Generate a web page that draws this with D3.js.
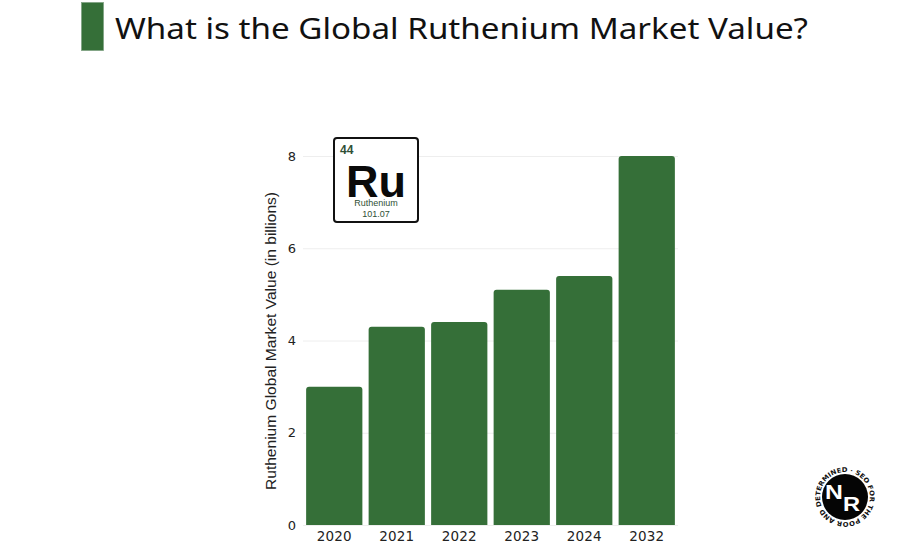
<!DOCTYPE html>
<html><head><meta charset="utf-8">
<script src="https://cdn.jsdelivr.net/npm/d3@7/dist/d3.min.js"></script>
<style>html,body{margin:0;padding:0;background:#fff}svg{display:block}text{font-family:"Noto Sans",sans-serif}</style>
</head><body><svg id="c" width="915" height="553"></svg>
<script>
const years = ["2020","2021","2022","2023","2024","2032"];
const marketValues = [3.0,4.3,4.4,5.1,5.4,8.0];
const yTicks = [0,2,4,6,8];
const titleText = "What is the Global Ruthenium Market Value?";
const yLabel = "Ruthenium Global Market Value (in billions)";
const ringText = "DETERMINED · SEO FOR THE POOR AND";
const green = "#356f38";

const svg = d3.select("#c");
svg.append("rect").attr("x",81.5).attr("y",2.5).attr("width",22).attr("height",48).attr("fill",green).attr("stroke","#7fa283").attr("stroke-width",.8);
svg.append("text").attr("x",115).attr("y",39).attr("font-size",29.5).attr("fill","#111").attr("textLength",693).attr("lengthAdjust","spacingAndGlyphs").text(titleText);

const x = d3.scaleBand().domain(years).range([303,678]).paddingInner(0.1).paddingOuter(0.05);
const y = d3.scaleLinear().domain([0,8]).range([525,156]);

const gy = svg.append("g").attr("transform","translate(303,0)")
  .call(d3.axisLeft(y).tickValues(yTicks).tickSize(-375).tickPadding(7).tickFormat(d3.format("d")));
gy.select(".domain").remove();
gy.selectAll(".tick line").attr("stroke","#eeeeee");
gy.selectAll(".tick text").attr("font-size",13).attr("fill","#222").style("font-family","DejaVu Sans");

const gx = svg.append("g").attr("transform","translate(0,525)")
  .call(d3.axisBottom(x).tickSize(0).tickPadding(6));
gx.select(".domain").remove();
gx.selectAll(".tick text").attr("font-size",13.5).attr("fill","#222").attr("letter-spacing",.2).style("font-family","DejaVu Sans");

svg.append("text").attr("transform","translate(276,341) rotate(-90)").attr("text-anchor","middle")
  .attr("font-size",14.5).attr("fill","#222").attr("textLength",298).attr("lengthAdjust","spacingAndGlyphs").style("font-family","Liberation Sans").text(yLabel);

const r = 3;
svg.append("g").selectAll("path").data(years).join("path").attr("fill",green)
  .attr("d",(d,i)=>{
    const a=x(d), w=x.bandwidth(), t=y(marketValues[i]), b=y(0);
    return `M${a},${b}V${t+r}Q${a},${t} ${a+r},${t}H${a+w-r}Q${a+w},${t} ${a+w},${t+r}V${b}Z`;
  });

// element tile
const tile = svg.append("g").attr("transform","translate(334,138)");
tile.append("rect").attr("width",84).attr("height",84).attr("rx",3).attr("fill","#fff").attr("stroke","#111").attr("stroke-width",2);
tile.append("text").attr("x",6).attr("y",16).attr("font-size",12).attr("font-weight",700).attr("fill","#2f4f35").style("font-family","Liberation Sans").text("44");
tile.append("text").attr("x",42).attr("y",59).attr("text-anchor","middle").attr("font-size",45).attr("font-weight",700).attr("fill","#0a0a0a").style("font-family","Liberation Sans").text("Ru");
tile.append("text").attr("x",42).attr("y",68).attr("text-anchor","middle").attr("font-size",9).attr("fill","#2f4f35").style("font-family","Liberation Sans").text("Ruthenium");
tile.append("text").attr("x",42).attr("y",79).attr("text-anchor","middle").attr("font-size",9).attr("fill","#2f4f35").style("font-family","Liberation Sans").text("101.07");

// logo
const logo = svg.append("g").attr("transform","translate(845,497)");
logo.append("circle").attr("r",23).attr("fill","#050505");
const ringPath = d3.path();
ringPath.arc(0,0,25,Math.PI*0.88,Math.PI*0.88+Math.PI*1.999,false);
logo.append("path").attr("id","ring").attr("fill","none").attr("d",ringPath.toString());
logo.append("text").attr("font-size",6.5).attr("font-weight",700).attr("fill","#111")
  .style("font-family","DejaVu Sans")
  .append("textPath").attr("href","#ring").attr("textLength",154).attr("lengthAdjust","spacingAndGlyphs").text(ringText);
logo.append("text").attr("transform","translate(-11,1.5) scale(1.27,1)").attr("text-anchor","middle").attr("font-size",19.5).attr("font-weight",700).attr("fill","#fff").style("font-family","Liberation Sans").text("N");
logo.append("text").attr("transform","translate(6.5,14) scale(1.13,1)").attr("text-anchor","middle").attr("font-size",21).attr("font-weight",700).attr("fill","#fff").style("font-family","Liberation Sans").text("R");
</script></body></html>
